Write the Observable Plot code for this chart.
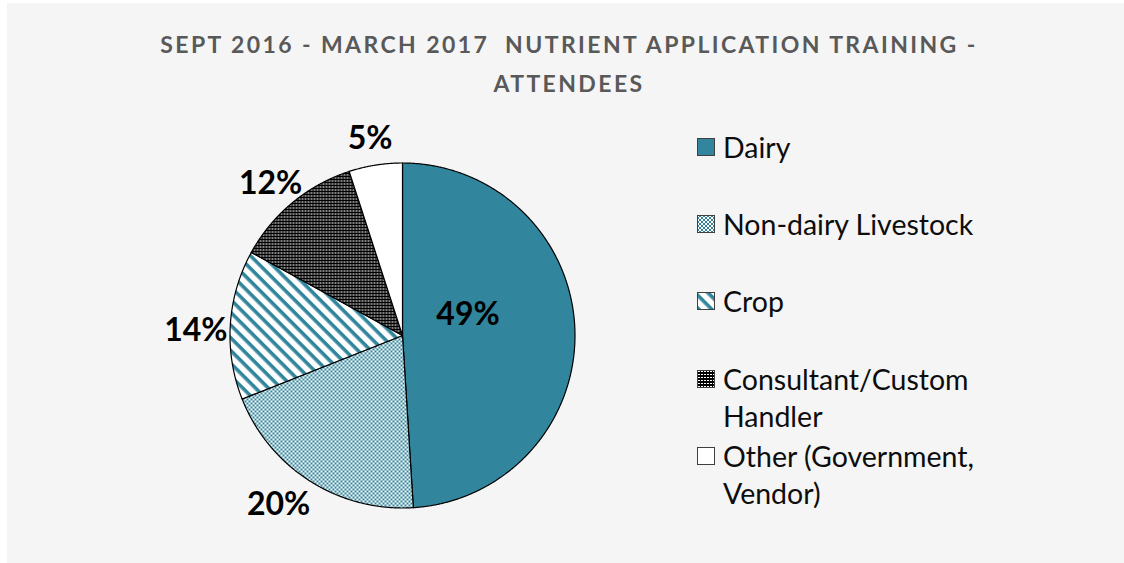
<!DOCTYPE html>
<html><head><meta charset="utf-8">
<script src="https://cdn.jsdelivr.net/npm/d3@7"></script>
<script src="https://cdn.jsdelivr.net/npm/@observablehq/plot@0.6"></script>
<style>
html,body{margin:0;padding:0;background:#fff;width:1124px;height:563px;overflow:hidden;}
#frame{position:absolute;left:7px;top:3px;right:0;bottom:0;background:#f5f5f5;}
.title{position:absolute;left:0;width:1138px;text-align:center;font-family:Lato,"Open Sans",sans-serif;font-weight:bold;color:#595959;font-size:23px;line-height:30px;letter-spacing:2.4px;white-space:pre;}
#chart{position:absolute;left:120px;top:110px;}
.leg{position:absolute;left:697px;font-family:Lato,"Open Sans",sans-serif;font-size:28.5px;line-height:37px;color:#0d0d0d;}
.leg svg{position:absolute;left:0;top:9px;}
.leg span{position:absolute;left:26px;top:0;white-space:nowrap;}
</style>
</head><body>
<svg width="0" height="0" style="position:absolute">
<defs>
<pattern id="pDairy" width="4" height="4" patternUnits="userSpaceOnUse"><rect width="4" height="4" fill="#31859c"/></pattern>
<pattern id="pNon" width="4" height="4" patternUnits="userSpaceOnUse" shape-rendering="crispEdges">
<rect width="4" height="4" fill="#2f8298"/><rect width="2" height="2" fill="#fff"/><rect x="2" y="2" width="2" height="2" fill="#fff"/></pattern>
<pattern id="pCrop" width="9" height="9" patternUnits="userSpaceOnUse" patternTransform="rotate(45)">
<rect width="9" height="9" fill="#fff"/><rect width="9" height="3.6" fill="#31859c"/></pattern>
<pattern id="pCons" width="3" height="3" patternUnits="userSpaceOnUse" shape-rendering="crispEdges">
<rect width="3" height="3" fill="#000"/><rect x="1" y="1" width="2" height="1" fill="#fff"/></pattern>
<pattern id="pOther" width="4" height="4" patternUnits="userSpaceOnUse"><rect width="4" height="4" fill="#fff"/></pattern>
</defs></svg>
<div id="frame"></div>
<div class="title" style="top:29px">SEPT 2016 - MARCH 2017  NUTRIENT APPLICATION TRAINING -</div>
<div class="title" style="top:68px">ATTENDEES</div>
<div id="chart"></div>
<div id="legend"></div>
<script>
const categories = ["Dairy", "Non-dairy Livestock", "Crop", "Consultant/Custom Handler", "Other (Government, Vendor)"];
const legendLines = [["Dairy"], ["Non-dairy Livestock"], ["Crop"], ["Consultant/Custom", "Handler"], ["Other (Government,", "Vendor)"]];
const values = [49, 20, 14, 12, 5];
const labels = ["49%", "20%", "14%", "12%", "5%"];
const fills = ["url(#pDairy)", "url(#pNon)", "url(#pCrop)", "url(#pCons)", "url(#pOther)"];

const total = d3.sum(values);
const slices = [];
let acc = 0;
values.forEach((v, i) => {
  const a0 = acc / total * 2 * Math.PI;
  acc += v;
  const a1 = acc / total * 2 * Math.PI;
  slices.push({cat: categories[i], a0, a1, v, i});
});
const polys = slices.map(s => {
  const pts = [{x: 0, y: 0}];
  const n = Math.max(2, Math.ceil((s.a1 - s.a0) / 0.005));
  for (let k = 0; k <= n; k++) {
    const a = s.a0 + (s.a1 - s.a0) * k / n;
    pts.push({x: Math.sin(a), y: Math.cos(a)});
  }
  pts.push({x: 0, y: 0});
  return pts;
});
// label anchor: mid-angle of each slice, inside for the big slice, outside for the rest
const labelData = slices.map(s => {
  const m = (s.a0 + s.a1) / 2;
  const r = s.i === 0 ? 0.38 : 1.2;
  return {x: r * Math.sin(m), y: r * Math.cos(m), text: labels[s.i], i: s.i};
});

const W = 564, H = 450, R = 172.5;
const textStyle = {x: "x", y: "y", text: "text", fontSize: 32, fontWeight: "bold", fontFamily: "Lato", fill: "#000"};
const plot = Plot.plot({
  width: W, height: H, margin: 0,
  x: {domain: [-W / 2 / R, W / 2 / R], axis: null},
  y: {domain: [-H / 2 / R, H / 2 / R], axis: null},
  style: {background: "transparent", overflow: "visible"},
  marks: [
    ...polys.map((p, i) => Plot.line(p, {x: "x", y: "y", fill: fills[i], stroke: "#000", strokeWidth: 1.2, curve: "linear"})),
    Plot.text(labelData.filter(d => d.i === 0), {...textStyle, dy: -19}),
    Plot.text(labelData.filter(d => d.i === 1), {...textStyle, dx: -13, dy: -6}),
    Plot.text(labelData.filter(d => d.i > 1), {...textStyle, dy: 8})
  ]
});
document.getElementById("chart").appendChild(plot);

const rowCenters = [147, 224, 301, 379, 456];
const leg = document.getElementById("legend");
legendLines.forEach((lines, i) => {
  const d = document.createElement("div");
  d.className = "leg";
  d.style.top = (rowCenters[i] - 18.5) + "px";
  d.innerHTML = `<svg width="18" height="18"><rect x="0.5" y="0.5" width="17" height="17" fill="${fills[i]}" stroke="#404040" stroke-width="1"/></svg><span>${lines.join("<br>")}</span>`;
  leg.appendChild(d);
});
</script>
</body></html>
